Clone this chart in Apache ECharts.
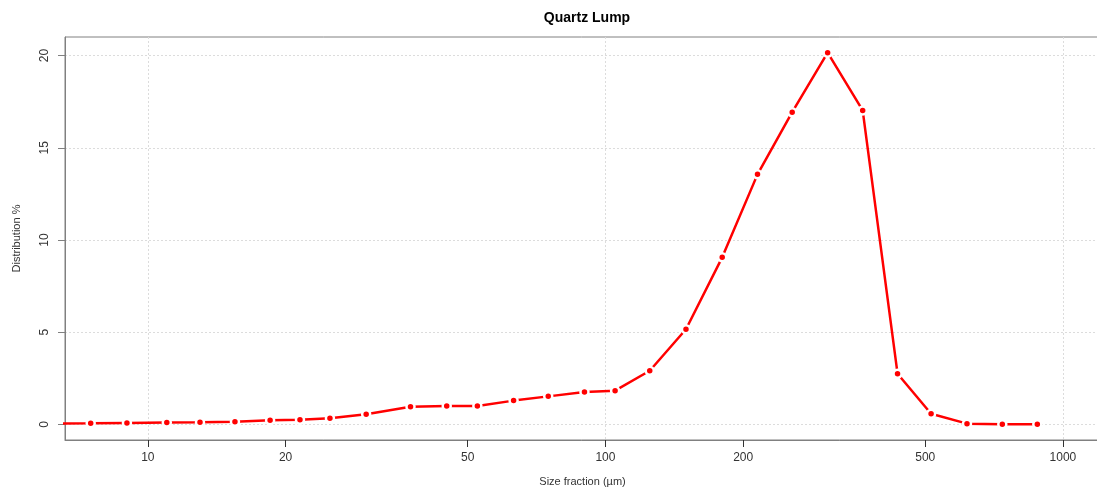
<!DOCTYPE html>
<html>
<head>
<meta charset="utf-8">
<script src="https://cdn.jsdelivr.net/npm/echarts@6/dist/echarts.min.js"></script>
<style>
  html, body { margin: 0; padding: 0; background: #ffffff; overflow: hidden; }
  #chart { width: 1097px; height: 495px; }
</style>
</head>
<body>
<div id="chart"></div>
<script>
// Particle size distribution of the quartz lump sample
const sizes = [6.3, 7.5, 9, 11, 13, 15.5, 18.5, 21.5, 25, 30, 37.5, 45, 52.5, 63, 75, 90, 105, 125,
  150, 180, 215, 256, 306, 365, 435, 515, 617, 737, 879];
const distribution = [0.05, 0.06, 0.08, 0.1, 0.11, 0.15, 0.22, 0.25, 0.33, 0.55, 0.96, 1.0, 1.0, 1.29,
  1.52, 1.76, 1.83, 2.91, 5.16, 9.06, 13.56, 16.93, 20.16, 17.03, 2.75, 0.58, 0.04, 0.01, 0.01];
const xTicks = [10, 20, 50, 100, 200, 500, 1000];
const yTicks = [0, 5, 10, 15, 20];

const FONT = '"Liberation Sans", Arial, sans-serif';
const xMin = 6.59, xMax = 1205;

const chart = echarts.init(document.getElementById('chart'), null, { renderer: 'canvas' });
chart.setOption({
  animation: false,
  backgroundColor: '#ffffff',
  title: {
    text: 'Quartz Lump',
    left: 582, top: 6,
    textAlign: 'center',
    textStyle: { fontFamily: FONT, fontSize: 14, fontWeight: 'bold', color: '#000' }
  },
  grid: {
    // plot box runs a few pixels past the right edge of the canvas
    left: 65, width: 1035, top: 37, bottom: 55,
    outerBoundsMode: 'none',
    show: true, borderColor: '#808080', borderWidth: 1, backgroundColor: 'transparent'
  },
  xAxis: [
    {
      // decade grid lines
      type: 'log', logBase: 10, min: xMin, max: xMax,
      axisLine: { show: false }, axisTick: { show: false }, axisLabel: { show: false },
      splitLine: { show: true, lineStyle: { color: '#dcdcdc', type: [2, 2], width: 1 } }
    },
    {
      // labelled ticks
      type: 'log', logBase: 10, min: xMin, max: xMax, position: 'bottom',
      name: 'Size fraction (\u00b5m)', nameLocation: 'middle', nameGap: 36,
      nameTextStyle: { fontFamily: FONT, fontSize: 11, color: '#333' },
      axisLine: { show: true, onZero: false, lineStyle: { color: '#808080', width: 1 } },
      axisTick: { show: true, inside: false, length: 7, customValues: xTicks, lineStyle: { color: '#333' } },
      axisLabel: {
        show: true, customValues: xTicks, margin: 12, fontFamily: FONT, fontSize: 12, color: '#333',
        formatter: v => String(Math.round(v))
      },
      splitLine: { show: false }
    }
  ],
  yAxis: {
    type: 'value', min: -0.846, max: 21.01,
    name: 'Distribution %', nameLocation: 'middle', nameGap: 43, nameRotate: 90,
    nameTextStyle: { fontFamily: FONT, fontSize: 11, color: '#333' },
    axisLine: { show: true, lineStyle: { color: '#808080', width: 1 } },
    axisTick: { show: true, inside: false, length: 7, customValues: yTicks, lineStyle: { color: '#808080' } },
    axisLabel: { show: true, customValues: yTicks, rotate: 90, margin: 14, fontFamily: FONT, fontSize: 12, color: '#333' },
    splitLine: { show: true, lineStyle: { color: '#dcdcdc', type: [2, 2], width: 1 } }
  },
  series: [{
    type: 'line',
    xAxisIndex: 0,
    data: sizes.map((s, i) => [s, distribution[i]]),
    clip: true,
    symbol: 'circle',
    symbolSize: 8,
    showAllSymbol: true,
    lineStyle: { color: '#ff0000', width: 2.5 },
    itemStyle: { color: '#ff0000', borderColor: '#ffffff', borderWidth: 2.5 },
    emphasis: { disabled: true }
  }]
});
</script>
</body>
</html>
